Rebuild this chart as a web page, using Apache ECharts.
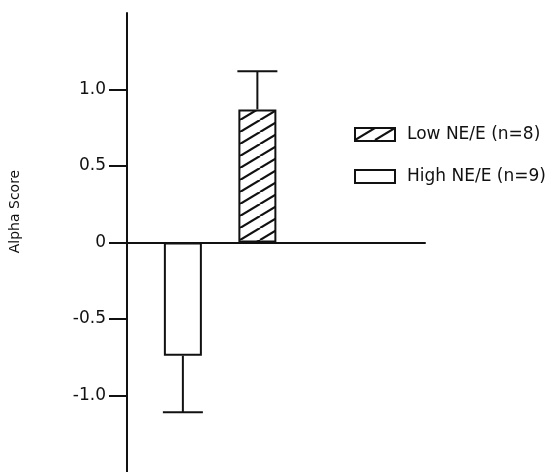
<!DOCTYPE html>
<html>
<head>
<meta charset="utf-8">
<script src="https://cdn.jsdelivr.net/npm/echarts@6/dist/echarts.min.js"></script>
<style>
  html, body { margin: 0; padding: 0; background: #fff; }
  #chart { width: 558px; height: 472px; }
</style>
</head>
<body>
<div id="chart"></div>
<script>
  // x slots: the two groups sit in the 2nd and 4th slot of an otherwise empty axis
  const categories = ['', 'High', '', 'Low', '', '', '', '']
  const seriesNames = ['Low NE/E (n=8)', 'High NE/E (n=9)']
  const lowMean = [['Low', 0.87]]
  const highMean = [['High', -0.74]]
  // [category, mean, standard error]
  const errorBars = [['High', -0.74, 0.37], ['Low', 0.87, 0.25]]
  const tickValues = [-1, -0.5, 0, 0.5, 1]

  const FONT = 'DejaVu Sans'

  // diagonal hatch fill (///)
  const hatch = document.createElement('canvas')
  hatch.width = 20
  hatch.height = 12
  const ctx = hatch.getContext('2d')
  ctx.fillStyle = '#fff'
  ctx.fillRect(0, 0, 20, 12)
  ctx.strokeStyle = '#111'
  ctx.lineWidth = 2.2
  ;[-20, 0, 20].forEach(dx => {
    ctx.beginPath()
    ctx.moveTo(dx, 12)
    ctx.lineTo(dx + 20, 0)
    ctx.stroke()
  })

  const chart = echarts.init(document.getElementById('chart'))

  chart.setOption({
    animation: false,
    backgroundColor: '#fff',
    textStyle: { fontFamily: FONT },
    grid: { left: 125, right: 133, top: 13, bottom: 0 },
    legend: {
      data: seriesNames,
      orient: 'vertical',
      left: 349,
      top: 121,
      itemWidth: 40,
      itemHeight: 13,
      itemGap: 25,
      icon: 'rect',
      textStyle: { fontSize: 17, color: '#111', fontFamily: FONT, padding: [0, 0, 0, 7] }
    },
    xAxis: {
      type: 'category',
      data: categories,
      axisLine: { lineStyle: { color: '#111', width: 2 } },
      axisTick: { show: false },
      axisLabel: { show: false },
      splitLine: { show: false }
    },
    yAxis: {
      type: 'value',
      min: -1.5,
      max: 1.5,
      interval: 0.5,
      name: 'Alpha Score',
      nameLocation: 'middle',
      nameGap: 105,
      nameTextStyle: { fontSize: 14, color: '#111', fontFamily: FONT, padding: [0, 0, 0, 62] },
      axisLine: { show: true, lineStyle: { color: '#111', width: 2 } },
      axisTick: { show: true, length: 18, customValues: tickValues, lineStyle: { color: '#111', width: 2 } },
      axisLabel: {
        customValues: tickValues,
        margin: 21,
        fontSize: 17,
        color: '#111',
        fontFamily: FONT,
        formatter: v => (v === 0 ? '0' : v.toFixed(1))
      },
      splitLine: { show: false }
    },
    series: [
      {
        name: seriesNames[1],
        type: 'bar',
        stack: 'one',
        barWidth: 38,
        data: highMean,
        itemStyle: { color: '#fff', borderColor: '#111', borderWidth: 2 }
      },
      {
        name: seriesNames[0],
        type: 'bar',
        stack: 'one',
        barWidth: 38,
        data: lowMean,
        itemStyle: { color: { image: hatch, repeat: 'repeat' }, borderColor: '#111', borderWidth: 2 }
      },
      {
        type: 'custom',
        data: errorBars,
        z: 1,
        renderItem(params, api) {
          const x = api.value(0)
          const mean = api.value(1)
          const err = api.value(2)
          const end = mean + (mean < 0 ? -err : err)
          const p0 = api.coord([x, mean])
          const p1 = api.coord([x, end])
          const half = 20
          const style = { stroke: '#111', lineWidth: 2 }
          return {
            type: 'group',
            children: [
              { type: 'line', shape: { x1: p0[0], y1: p0[1], x2: p1[0], y2: p1[1] }, style },
              { type: 'line', shape: { x1: p1[0] - half, y1: p1[1], x2: p1[0] + half, y2: p1[1] }, style }
            ]
          }
        }
      }
    ]
  })
</script>
</body>
</html>
